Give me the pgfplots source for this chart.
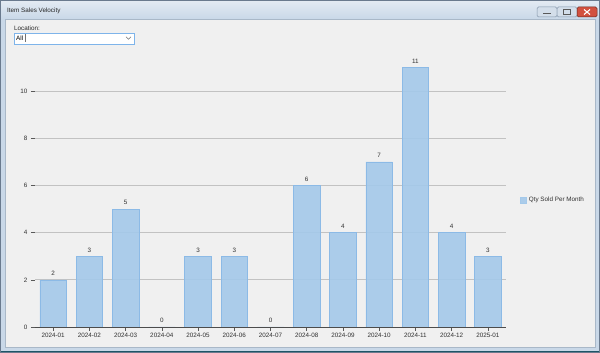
\documentclass[border=0pt]{standalone}
\usepackage{fontspec}
\setmainfont{Liberation Sans}
\usepackage{pgfplots}
\pgfplotsset{compat=1.18}
\definecolor{framec}{HTML}{C9D8E8}
\definecolor{titletop}{HTML}{E4EBF3}
\definecolor{outerc}{HTML}{6A7A8E}
\definecolor{tealc}{HTML}{1E5566}
\definecolor{clientc}{HTML}{F0F0F0}
\definecolor{clientb}{HTML}{A9B8C8}
\definecolor{barfill}{HTML}{A4C9EA}
\definecolor{barline}{HTML}{8CBAE6}
\definecolor{gridc}{HTML}{C2C2C2}
\definecolor{labelc}{HTML}{303030}
\definecolor{combob}{HTML}{7EB4EA}
\definecolor{btnc}{HTML}{D3DEEA}
\definecolor{btnb}{HTML}{8395AA}
\definecolor{closec}{HTML}{D2513F}
\begin{document}
\begin{tikzpicture}[x=1pt,y=1pt]
% window frame
\fill[framec] (0,0) rectangle (600,353);
\shade[top color=titletop,bottom color=framec] (0,353) rectangle (600,334);
\fill[tealc] (0,0) rectangle (600,2);
\draw[outerc,line width=0.6pt] (0.3,0.3) rectangle (599.7,352.7);
\fill[clientc] (5,6) rectangle (595,334);
\draw[clientb,line width=0.5pt] (5,6) rectangle (595,334);
\node[anchor=west,inner sep=0,font=\fontsize{6.3}{7}\selectfont,text=black!85] at (7,342.5) {Item Sales Velocity};
% window buttons
\draw[btnb,fill=btnc,rounded corners=1.5pt,line width=0.5pt] (537,336) rectangle (557,346);
\draw[black!65,line width=1pt] (543,339.5) -- (551,339.5);
\draw[btnb,fill=btnc,rounded corners=1.5pt,line width=0.5pt] (557,336) rectangle (577,346);
\draw[black!65,line width=0.7pt] (563.5,338.5) rectangle (570.5,343.5);
\draw[black!50!closec,fill=closec,rounded corners=1.5pt,line width=0.5pt] (577,336) rectangle (597,346);
\draw[white,line width=1.1pt] (584,338.5) -- (590,343.5) (584,343.5) -- (590,338.5);
% location combobox
\node[anchor=west,inner sep=0,font=\fontsize{6.3}{7}\selectfont,text=black!85] at (14,324.5) {Location:};
\draw[combob,fill=white,line width=0.6pt] (14,309) rectangle (134,320);
\node[anchor=west,inner sep=0,font=\fontsize{6.3}{7}\selectfont] at (16,314.5) {All};
\draw[black!55,line width=0.5pt] (25.3,311) -- (25.3,318.5);
\draw[black!55,line width=0.6pt] (126,316.2) -- (128.5,313.7) -- (131,316.2);
% chart
\begin{axis}[
  at={(35pt,26pt)}, anchor=south west,
  scale only axis, width=471pt, height=283pt,
  xmin=-0.5, xmax=12.5, ymin=0, ymax=12,
  ybar, bar width=26.5pt,
  xtick={0,...,12},
  xticklabels={2024-01,2024-02,2024-03,2024-04,2024-05,2024-06,2024-07,2024-08,2024-09,2024-10,2024-11,2024-12,2025-01},
  ytick={0,2,4,6,8,10},
  ymajorgrids, grid style={color=gridc, line width=0.75pt},
  separate axis lines,
  axis x line*=bottom, axis y line*=left,
  x axis line style={draw=black!70, line width=0.7pt},
  y axis line style={draw=none},
  tick align=outside, major tick length=4pt,
  tick style={draw=black!65, line width=0.6pt},
  /pgf/number format/assume math mode=true,
  ticklabel style={font=\fontsize{6.3}{7}\selectfont, text=labelc},
  xticklabel style={yshift=1.8pt},
  nodes near coords,
  every node near coord/.append style={font=\fontsize{6.3}{7}\selectfont, text=labelc, yshift=0.5pt},
  legend style={at={(1.03,0.449)}, anchor=west, draw=none, fill=none,
    font=\fontsize{6.3}{7}\selectfont, text=labelc, inner sep=0pt},
  legend cell align=left,
  legend image code/.code={\fill[barfill] (0pt,-3pt) rectangle (6pt,3pt);},
]
\addplot[fill=barfill, fill opacity=0.9, draw=barline, line width=0.6pt, text opacity=1]
  coordinates {(0,2) (1,3) (2,5) (3,0) (4,3) (5,3) (6,0) (7,6) (8,4) (9,7) (10,11) (11,4) (12,3)};
\addlegendentry{Qty Sold Per Month}
\end{axis}
\end{tikzpicture}
\end{document}
